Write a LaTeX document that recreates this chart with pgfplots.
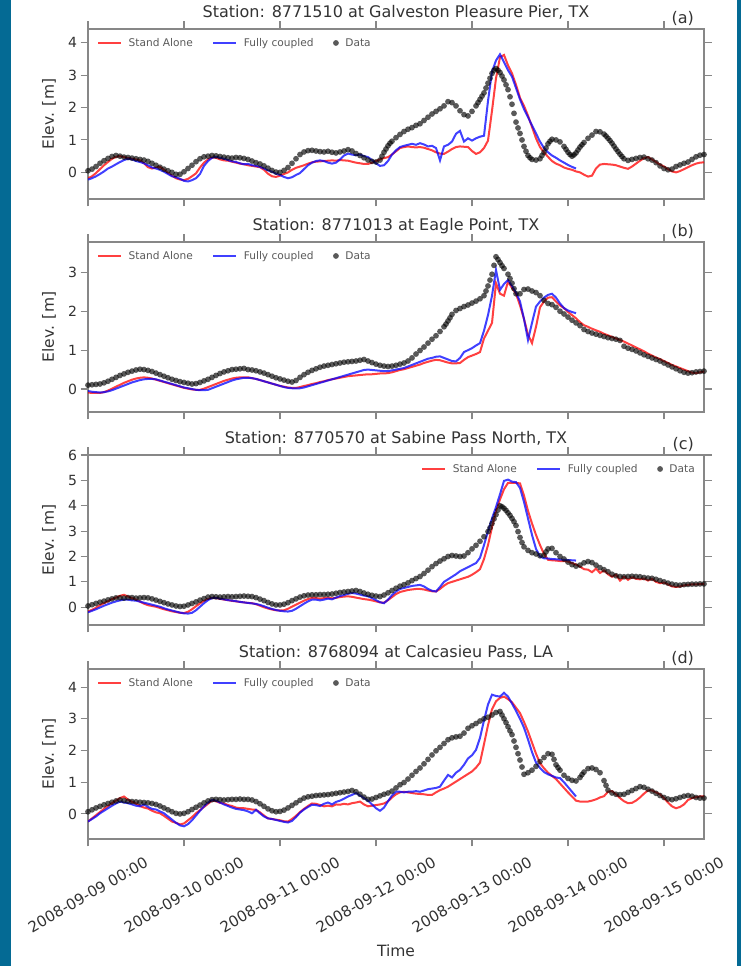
\documentclass[border=0pt]{standalone}
\usepackage{pgfplots}
\pgfplotsset{compat=1.18}
\usepackage{pgfplotstable}
\usepackage{fontspec}
\setmainfont{DejaVu Sans}
\definecolor{frameblue}{RGB}{4,106,148}
\definecolor{spine}{RGB}{135,135,135}
\definecolor{txt}{RGB}{51,51,51}
\definecolor{legtxt}{RGB}{90,90,90}
\definecolor{sared}{RGB}{255,0,0}
\definecolor{fcblue}{RGB}{0,0,255}

\pgfplotstableread{
h d r b
0 0.05 -0.18 -0.22
1 0.10 -0.12 -0.18
2 0.18 -0.02 -0.12
3 0.28 0.10 -0.05
4 0.36 0.22 0.03
5 0.43 0.32 0.12
6 0.49 0.42 0.18
7 0.52 0.48 0.25
8 0.50 0.50 0.32
9 0.47 0.47 0.38
10 0.46 0.44 0.42
11 0.44 0.42 0.40
12 0.42 0.40 0.35
13 0.40 0.37 0.32
14 0.38 0.28 0.28
15 0.34 0.16 0.22
16 0.28 0.12 0.15
17 0.22 0.15 0.12
18 0.16 0.17 0.08
19 0.10 0.08 0.02
20 0.05 -0.02 -0.05
21 0.00 -0.10 -0.12
22 -0.06 -0.18 -0.15
23 -0.06 -0.22 -0.20
24 0.02 -0.24 -0.26
25 0.12 -0.20 -0.28
26 0.22 -0.12 -0.24
27 0.33 -0.03 -0.18
28 0.42 0.15 -0.05
29 0.48 0.30 0.20
30 0.50 0.40 0.35
31 0.52 0.46 0.45
32 0.51 0.45 0.48
33 0.49 0.40 0.45
34 0.47 0.37 0.42
35 0.45 0.36 0.38
36 0.44 0.33 0.34
37 0.46 0.30 0.32
38 0.45 0.27 0.28
39 0.43 0.25 0.25
40 0.40 0.22 0.26
41 0.35 0.20 0.22
42 0.30 0.18 0.20
43 0.26 0.16 0.17
44 0.20 0.08 0.12
45 0.13 -0.04 0.06
46 0.06 -0.12 0.02
47 0.01 -0.14 -0.04
48 0.00 -0.10 -0.08
49 0.06 -0.05 -0.14
50 0.15 0.00 -0.18
51 0.28 0.08 -0.15
52 0.42 0.14 -0.08
53 0.55 0.18 -0.02
54 0.63 0.22 0.10
55 0.67 0.27 0.22
56 0.68 0.31 0.30
57 0.66 0.33 0.35
58 0.64 0.34 0.37
59 0.63 0.35 0.35
60 0.65 0.36 0.30
61 0.62 0.37 0.27
62 0.60 0.36 0.30
63 0.63 0.38 0.40
64 0.66 0.37 0.52
65 0.70 0.36 0.58
66 0.66 0.33 0.55
67 0.58 0.30 0.53
68 0.52 0.28 0.55
69 0.45 0.26 0.50
70 0.38 0.26 0.47
71 0.34 0.30 0.38
72 0.32 0.35 0.28
73 0.38 0.40 0.20
74 0.62 0.44 0.22
75 0.82 0.47 0.35
76 0.96 0.55 0.55
77 1.07 0.65 0.68
78 1.17 0.75 0.78
79 1.26 0.78 0.82
80 1.33 0.80 0.85
81 1.38 0.78 0.88
82 1.45 0.77 0.85
83 1.50 0.78 0.90
84 1.60 0.76 0.86
85 1.70 0.72 0.80
86 1.80 0.68 0.82
87 1.88 0.62 0.75
88 1.96 0.58 0.37
89 2.05 0.57 0.80
90 2.18 0.64 0.85
91 2.15 0.72 0.95
92 2.05 0.78 1.19
93 1.90 0.80 1.28
94 1.78 0.79 0.95
95 1.74 0.78 1.05
96 1.88 0.66 0.98
97 2.05 0.57 1.05
98 2.25 0.62 1.10
99 2.45 0.75 1.13
100 2.75 0.98 2.20
101 3.05 1.90 3.10
102 3.20 2.90 3.45
103 3.08 3.55 3.64
104 2.85 3.62 3.40
105 2.55 3.30 3.15
106 2.10 3.05 2.95
107 1.55 2.70 2.60
108 1.20 2.30 2.25
109 0.80 2.05 1.95
110 0.52 1.75 1.70
111 0.40 1.40 1.45
112 0.38 1.05 1.20
113 0.42 0.78 0.95
114 0.62 0.62 0.75
115 0.88 0.48 0.62
116 1.02 0.35 0.52
117 1.00 0.27 0.45
118 0.94 0.22 0.37
119 0.80 0.15 0.30
120 0.62 0.11 0.23
121 0.50 0.08 0.17
122 0.60 0.03 0.12
123 0.78 0.00 nan
124 0.92 -0.07 nan
125 1.05 -0.13 nan
126 1.15 -0.10 nan
127 1.26 0.12 nan
128 1.25 0.24 nan
129 1.18 0.26 nan
130 1.05 0.25 nan
131 0.90 0.24 nan
132 0.72 0.22 nan
133 0.56 0.18 nan
134 0.42 0.14 nan
135 0.37 0.11 nan
136 0.40 0.18 nan
137 0.43 0.27 nan
138 0.46 0.36 nan
139 0.47 0.44 nan
140 0.42 0.47 nan
141 0.38 0.40 nan
142 0.30 0.32 nan
143 0.20 0.24 nan
144 0.12 0.18 nan
145 0.08 0.10 nan
146 0.10 0.03 nan
147 0.18 0.00 nan
148 0.23 0.04 nan
149 0.28 0.10 nan
150 0.32 0.16 nan
151 0.40 0.22 nan
152 0.48 0.27 nan
153 0.53 0.30 nan
154 0.55 0.31 nan
}\tabA

\pgfplotstableread{
h d r b
0 0.10 -0.09 -0.05
1 0.11 -0.10 -0.07
2 0.12 -0.10 -0.08
3 0.13 -0.10 -0.09
4 0.16 -0.08 -0.08
5 0.20 -0.04 -0.06
6 0.25 0.01 -0.03
7 0.30 0.06 0.01
8 0.35 0.11 0.05
9 0.39 0.16 0.09
10 0.43 0.20 0.13
11 0.46 0.24 0.17
12 0.49 0.27 0.20
13 0.51 0.29 0.23
14 0.50 0.30 0.25
15 0.48 0.29 0.26
16 0.45 0.27 0.26
17 0.41 0.24 0.25
18 0.37 0.21 0.22
19 0.33 0.18 0.19
20 0.29 0.15 0.16
21 0.25 0.12 0.13
22 0.22 0.09 0.10
23 0.19 0.06 0.07
24 0.17 0.03 0.04
25 0.15 0.01 0.02
26 0.13 -0.01 0.00
27 0.14 -0.02 -0.02
28 0.17 -0.02 -0.03
29 0.21 0.01 -0.03
30 0.25 0.05 -0.02
31 0.30 0.09 0.02
32 0.35 0.13 0.06
33 0.40 0.17 0.10
34 0.44 0.21 0.14
35 0.47 0.24 0.18
36 0.50 0.27 0.22
37 0.51 0.29 0.25
38 0.52 0.30 0.27
39 0.53 0.30 0.29
40 0.50 0.30 0.29
41 0.49 0.28 0.28
42 0.47 0.26 0.26
43 0.44 0.23 0.23
44 0.41 0.20 0.20
45 0.37 0.17 0.17
46 0.33 0.14 0.14
47 0.29 0.11 0.11
48 0.26 0.08 0.08
49 0.23 0.06 0.05
50 0.20 0.04 0.03
51 0.18 0.03 0.02
52 0.22 0.03 0.02
53 0.30 0.05 0.02
54 0.37 0.08 0.04
55 0.43 0.10 0.07
56 0.48 0.13 0.10
57 0.52 0.15 0.13
58 0.56 0.18 0.16
59 0.59 0.20 0.19
60 0.61 0.23 0.22
61 0.63 0.25 0.25
62 0.65 0.27 0.28
63 0.67 0.29 0.31
64 0.69 0.31 0.34
65 0.70 0.33 0.37
66 0.71 0.34 0.40
67 0.72 0.35 0.43
68 0.74 0.36 0.46
69 0.76 0.37 0.49
70 0.72 0.38 0.50
71 0.68 0.38 0.49
72 0.64 0.39 0.48
73 0.61 0.40 0.47
74 0.59 0.40 0.46
75 0.58 0.41 0.46
76 0.59 0.43 0.48
77 0.61 0.46 0.50
78 0.64 0.49 0.52
79 0.67 0.51 0.54
80 0.72 0.54 0.58
81 0.80 0.57 0.62
82 0.90 0.60 0.66
83 0.99 0.63 0.70
84 1.08 0.67 0.74
85 1.18 0.70 0.78
86 1.28 0.73 0.80
87 1.37 0.75 0.83
88 1.48 0.74 0.84
89 1.60 0.71 0.80
90 1.75 0.68 0.76
91 1.92 0.66 0.72
92 2.02 0.66 0.71
93 2.07 0.67 0.80
94 2.12 0.75 0.95
95 2.16 0.82 1.00
96 2.21 0.86 1.05
97 2.26 0.90 1.12
98 2.32 0.95 1.18
99 2.40 1.30 1.50
100 2.65 1.50 1.90
101 2.95 1.70 2.40
102 3.40 2.72 3.06
103 3.25 2.45 2.55
104 3.10 2.40 2.70
105 2.95 2.76 2.80
106 2.72 2.60 2.65
107 2.45 2.45 2.48
108 2.45 2.15 2.25
109 2.56 1.80 1.80
110 2.57 1.40 1.26
111 2.52 1.18 1.70
112 2.48 1.60 2.12
113 2.40 2.10 2.25
114 2.28 2.25 2.35
115 2.20 2.35 2.42
116 2.17 2.36 2.45
117 2.10 2.25 2.35
118 2.00 2.15 2.20
119 1.93 2.08 2.08
120 1.85 1.98 2.02
121 1.77 1.90 1.98
122 1.70 1.82 1.95
123 1.63 1.72 nan
124 1.53 1.64 nan
125 1.48 1.60 nan
126 1.44 1.55 nan
127 1.41 1.51 nan
128 1.38 1.47 nan
129 1.35 1.42 nan
130 1.32 1.38 nan
131 1.30 1.34 nan
132 1.28 1.30 nan
133 1.25 1.26 nan
134 1.10 1.22 nan
135 1.05 1.17 nan
136 1.02 1.12 nan
137 0.98 1.07 nan
138 0.93 1.02 nan
139 0.88 0.97 nan
140 0.84 0.91 nan
141 0.80 0.86 nan
142 0.76 0.81 nan
143 0.72 0.77 nan
144 0.67 0.72 nan
145 0.62 0.67 nan
146 0.57 0.62 nan
147 0.52 0.58 nan
148 0.47 0.54 nan
149 0.43 0.50 nan
150 0.41 0.46 nan
151 0.42 0.42 nan
152 0.44 0.41 nan
153 0.45 0.43 nan
154 0.46 0.45 nan
}\tabB

\pgfplotstableread{
h d r b
0 0.05 -0.17 -0.20
1 0.10 -0.10 -0.14
2 0.15 -0.02 -0.08
3 0.20 0.08 -0.01
4 0.24 0.16 0.06
5 0.29 0.24 0.12
6 0.33 0.32 0.18
7 0.37 0.38 0.23
8 0.37 0.45 0.27
9 0.36 0.49 0.30
10 0.38 0.42 0.30
11 0.38 0.36 0.27
12 0.36 0.30 0.26
13 0.37 0.22 0.22
14 0.38 0.14 0.18
15 0.37 0.08 0.14
16 0.33 0.05 0.10
17 0.28 0.02 0.06
18 0.23 -0.03 0.02
19 0.18 -0.08 -0.04
20 0.13 -0.12 -0.09
21 0.09 -0.16 -0.13
22 0.05 -0.19 -0.17
23 0.03 -0.22 -0.21
24 0.04 -0.23 -0.24
25 0.09 -0.18 -0.25
26 0.15 -0.08 -0.22
27 0.21 0.04 -0.12
28 0.28 0.15 0.02
29 0.34 0.25 0.16
30 0.40 0.32 0.28
31 0.42 0.37 0.36
32 0.41 0.36 0.37
33 0.40 0.33 0.34
34 0.41 0.30 0.31
35 0.42 0.28 0.28
36 0.41 0.25 0.26
37 0.42 0.23 0.24
38 0.43 0.21 0.21
39 0.44 0.19 0.19
40 0.43 0.17 0.17
41 0.42 0.16 0.15
42 0.38 0.12 0.13
43 0.32 0.06 0.09
44 0.26 0.00 0.04
45 0.19 -0.05 -0.02
46 0.13 -0.09 -0.07
47 0.09 -0.12 -0.11
48 0.09 -0.13 -0.14
49 0.12 -0.12 -0.16
50 0.18 -0.06 -0.17
51 0.26 0.02 -0.14
52 0.33 0.10 -0.06
53 0.40 0.18 0.04
54 0.45 0.26 0.14
55 0.48 0.32 0.23
56 0.49 0.37 0.30
57 0.49 0.36 0.30
58 0.50 0.34 0.27
59 0.50 0.36 0.30
60 0.51 0.38 0.34
61 0.52 0.35 0.31
62 0.55 0.37 0.38
63 0.58 0.40 0.44
64 0.60 0.42 0.48
65 0.62 0.43 0.53
66 0.64 0.41 0.56
67 0.66 0.38 0.54
68 0.62 0.35 0.50
69 0.56 0.32 0.46
70 0.51 0.30 0.43
71 0.47 0.27 0.36
72 0.44 0.23 0.28
73 0.42 0.19 0.20
74 0.48 0.18 0.16
75 0.57 0.28 0.30
76 0.66 0.40 0.48
77 0.75 0.52 0.62
78 0.83 0.60 0.72
79 0.89 0.64 0.76
80 0.96 0.68 0.80
81 1.05 0.70 0.84
82 1.13 0.72 0.86
83 1.21 0.72 0.88
84 1.33 0.70 0.82
85 1.46 0.66 0.72
86 1.60 0.63 0.65
87 1.72 0.62 0.62
88 1.82 0.72 0.80
89 1.91 0.85 1.00
90 2.00 0.95 1.10
91 2.04 1.00 1.20
92 2.02 1.05 1.30
93 2.00 1.10 1.42
94 2.02 1.15 1.50
95 2.15 1.20 1.58
96 2.30 1.28 1.66
97 2.44 1.38 1.74
98 2.60 1.50 1.95
99 2.78 1.90 2.45
100 2.98 2.45 3.00
101 3.30 3.15 3.50
102 3.65 3.80 3.95
103 4.00 4.25 4.45
104 3.90 4.65 4.98
105 3.72 4.90 5.03
106 3.50 4.90 4.95
107 3.22 4.90 4.93
108 2.75 4.88 4.70
109 2.38 4.40 4.15
110 2.24 3.80 3.50
111 2.15 3.30 2.85
112 2.10 2.85 2.30
113 2.03 2.45 2.00
114 2.05 2.10 1.93
115 2.30 1.87 1.92
116 2.32 1.85 1.90
117 2.15 1.84 1.89
118 2.00 1.82 1.88
119 1.90 1.82 1.87
120 1.78 1.80 1.86
121 1.68 1.74 1.85
122 1.62 1.68 1.84
123 1.66 1.60 nan
124 1.75 1.50 nan
125 1.80 1.48 nan
126 1.76 1.38 nan
127 1.66 1.52 nan
128 1.56 1.35 nan
129 1.48 1.45 nan
130 1.40 1.30 nan
131 1.30 1.20 nan
132 1.24 1.28 nan
133 1.21 1.05 nan
134 1.20 1.20 nan
135 1.21 1.08 nan
136 1.22 1.18 nan
137 1.21 1.12 nan
138 1.20 1.10 nan
139 1.17 1.13 nan
140 1.15 1.05 nan
141 1.14 1.12 nan
142 1.10 1.00 nan
143 1.05 0.95 nan
144 1.00 0.97 nan
145 0.95 0.90 nan
146 0.91 0.82 nan
147 0.88 0.80 nan
148 0.87 0.82 nan
149 0.89 0.86 nan
150 0.90 0.88 nan
151 0.91 0.90 nan
152 0.91 0.90 nan
153 0.92 0.91 nan
154 0.92 0.92 nan
}\tabC

\pgfplotstableread{
h d r b
0 0.07 -0.24 -0.24
1 0.13 -0.14 -0.16
2 0.19 -0.04 -0.08
3 0.24 0.06 0.02
4 0.29 0.16 0.10
5 0.33 0.25 0.18
6 0.37 0.34 0.26
7 0.41 0.42 0.33
8 0.44 0.50 0.39
9 0.42 0.55 0.36
10 0.40 0.45 0.34
11 0.39 0.38 0.30
12 0.38 0.33 0.26
13 0.37 0.25 0.24
14 0.36 0.20 0.30
15 0.35 0.17 0.22
16 0.33 0.10 0.16
17 0.30 0.05 0.14
18 0.25 0.02 0.08
19 0.19 -0.06 0.02
20 0.13 -0.15 -0.08
21 0.07 -0.24 -0.18
22 0.02 -0.28 -0.28
23 0.00 -0.33 -0.36
24 0.02 -0.30 -0.39
25 0.07 -0.20 -0.32
26 0.14 -0.10 -0.20
27 0.21 0.02 -0.05
28 0.28 0.12 0.10
29 0.35 0.22 0.24
30 0.41 0.32 0.36
31 0.45 0.42 0.44
32 0.46 0.40 0.42
33 0.45 0.35 0.36
34 0.44 0.33 0.30
35 0.45 0.28 0.25
36 0.46 0.25 0.20
37 0.46 0.20 0.16
38 0.47 0.18 0.14
39 0.46 0.18 0.12
40 0.46 0.16 0.08
41 0.44 0.14 0.02
42 0.39 0.13 0.13
43 0.32 0.05 0.02
44 0.24 -0.05 -0.08
45 0.16 -0.14 -0.14
46 0.10 -0.16 -0.16
47 0.07 -0.18 -0.19
48 0.08 -0.20 -0.22
49 0.12 -0.23 -0.25
50 0.19 -0.24 -0.27
51 0.27 -0.16 -0.22
52 0.35 -0.06 -0.10
53 0.43 0.06 0.04
54 0.50 0.16 0.14
55 0.54 0.25 0.22
56 0.56 0.33 0.29
57 0.58 0.32 0.28
58 0.59 0.28 0.25
59 0.60 0.24 0.32
60 0.61 0.26 0.36
61 0.63 0.24 0.30
62 0.65 0.30 0.38
63 0.67 0.29 0.42
64 0.69 0.32 0.48
65 0.71 0.30 0.55
66 0.74 0.34 0.60
67 0.70 0.36 0.66
68 0.62 0.39 0.58
69 0.53 0.30 0.50
70 0.46 0.24 0.42
71 0.47 0.26 0.30
72 0.52 0.28 0.18
73 0.57 0.30 0.10
74 0.62 0.33 0.20
75 0.66 0.40 0.40
76 0.72 0.52 0.58
77 0.82 0.62 0.70
78 0.92 0.68 0.70
79 0.99 0.70 0.68
80 1.10 0.68 0.70
81 1.22 0.66 0.70
82 1.34 0.64 0.72
83 1.45 0.63 0.70
84 1.58 0.62 0.74
85 1.72 0.60 0.78
86 1.86 0.60 0.80
87 1.99 0.68 0.82
88 2.10 0.75 0.86
89 2.22 0.80 1.05
90 2.34 0.86 1.23
91 2.40 0.94 1.15
92 2.43 1.02 1.30
93 2.45 1.10 1.39
94 2.55 1.18 1.55
95 2.70 1.26 1.75
96 2.78 1.34 1.85
97 2.85 1.46 2.02
98 2.93 1.62 2.40
99 3.00 2.20 2.95
100 3.05 2.80 3.45
101 3.12 3.30 3.76
102 3.20 3.55 3.72
103 3.23 3.66 3.70
104 3.00 3.70 3.82
105 2.75 3.62 3.70
106 2.50 3.52 3.48
107 2.10 3.35 3.25
108 1.70 3.18 3.00
109 1.25 2.90 2.72
110 1.30 2.60 2.35
111 1.38 2.25 1.95
112 1.50 1.90 1.62
113 1.65 1.60 1.45
114 1.78 1.44 1.32
115 1.90 1.30 1.25
116 1.88 1.20 1.20
117 1.55 1.10 1.15
118 1.38 0.96 1.13
119 1.22 0.82 1.00
120 1.12 0.68 0.85
121 1.06 0.55 0.70
122 1.04 0.42 0.55
123 1.15 0.39 nan
124 1.32 0.39 nan
125 1.43 0.39 nan
126 1.45 0.42 nan
127 1.40 0.46 nan
128 1.30 0.52 nan
129 1.05 0.56 nan
130 0.75 0.70 nan
131 0.66 0.72 nan
132 0.62 0.62 nan
133 0.61 0.50 nan
134 0.62 0.40 nan
135 0.68 0.34 nan
136 0.74 0.35 nan
137 0.80 0.42 nan
138 0.86 0.52 nan
139 0.84 0.64 nan
140 0.78 0.74 nan
141 0.72 0.74 nan
142 0.65 0.68 nan
143 0.58 0.62 nan
144 0.52 0.50 nan
145 0.47 0.36 nan
146 0.45 0.24 nan
147 0.48 0.18 nan
148 0.52 0.22 nan
149 0.56 0.30 nan
150 0.58 0.44 nan
151 0.56 0.50 nan
152 0.52 0.53 nan
153 0.50 0.55 nan
154 0.50 0.55 nan
}\tabD

\tikzset{paneltag/.style={anchor=base east, yshift=5.5pt, inner sep=0pt, font=\fontsize{16}{19}\selectfont, text=txt}}

\pgfplotsset{
  panel/.style={
    scale only axis, width=616pt, height=170pt, anchor=south west,
    xmin=0, xmax=154, xtick={0,24,48,72,96,120,144},
    axis line style={draw=spine, line width=1.2pt},
    tick align=outside, major tick length=7.5pt,
    tick style={draw=spine, line width=1.1pt},
    xticklabels={},
    /pgf/number format/assume math mode=true,
    yticklabel style={font=\fontsize{14}{16}\selectfont, text=txt},
    ylabel={Elev. [m]},
    ylabel style={at={(axis description cs:-0.0633,0.5)}, anchor=center, font=\fontsize{15.5}{18}\selectfont, text=txt},
    title style={at={(axis description cs:0.5,1)}, anchor=base, yshift=5.5pt, font=\fontsize{16}{19}\selectfont, text=txt},
    legend columns=3,
    legend style={draw=none, fill=none, inner sep=0pt,
      font=\fontsize{10.6}{12}\selectfont\color{legtxt},
      /tikz/every odd column/.append style={column sep=4.5pt},
      /tikz/every even column/.append style={column sep=17.5pt}},
  },
  sa/.style={sared, opacity=0.75, line width=2pt, no marks,
    legend image code/.code={\draw[##1] (0pt,0pt) -- (23pt,0pt);}},
  fc/.style={fcblue, opacity=0.75, line width=2pt, no marks,
    legend image code/.code={\draw[##1] (0pt,0pt) -- (23pt,0pt);}},
  obs/.style={only marks, mark=*, mark size=2.9pt, mark options={fill=black, fill opacity=0.65, draw opacity=0},
    legend image code/.code={\draw[mark repeat=2,mark phase=2,##1] plot coordinates {(0pt,0pt) (11.5pt,0pt) (23pt,0pt)};}},
}

\begin{document}
\begin{tikzpicture}
\fill[white] (0pt,0pt) rectangle (741pt,966pt);
\fill[frameblue] (0pt,0pt) rectangle (11pt,966pt);
\fill[frameblue] (737pt,0pt) rectangle (741pt,966pt);

% (a)
\begin{axis}[panel, at={(88pt,767pt)},
  ymin=-0.82, ymax=4.42, ytick={0,1,2,3,4},
  title={Station: 8771510 at Galveston Pleasure Pier, TX},
  legend style={at={(axis description cs:0,1)}, anchor=north west, xshift=9pt, yshift=-7pt},
  extra description/.code={\node[paneltag] at (0.984,1) {(a)};}]
\addplot[sa] table[x=h,y=r] {\tabA}; \addlegendentry{Stand Alone}
\addplot[fc] table[x=h,y=b] {\tabA}; \addlegendentry{Fully coupled}
\addplot[obs] table[x=h,y=d] {\tabA}; \addlegendentry{Data}
\addplot[obs, forget plot] coordinates {(73.5,0.50) (74.5,0.72) (75.5,0.90) (97.5,2.15) (98.5,2.35) (99.5,2.60) (100.5,2.90) (101.5,3.15) (102.5,3.15) (103.5,2.97) (104.5,2.70) (105.5,2.33) (106.5,1.82) (107.5,1.37) (108.5,1.00) (109.5,0.65) (110.5,0.45) (113.5,0.52) (114.5,0.75) (115.5,0.96) (119.5,0.71) (120.5,0.55) (121.5,0.54) (122.5,0.69) (123.5,0.85) (129.5,1.12) (130.5,0.98) (131.5,0.81) (132.5,0.64) (133.5,0.49)};
\end{axis}

% (b)
\begin{axis}[panel, at={(88pt,554pt)},
  ymin=-0.59, ymax=3.78, ytick={0,1,2,3},
  title={Station: 8771013 at Eagle Point, TX},
  legend style={at={(axis description cs:0,1)}, anchor=north west, xshift=9pt, yshift=-7pt},
  extra description/.code={\node[paneltag] at (0.984,1) {(b)};}]
\addplot[sa] table[x=h,y=r] {\tabB}; \addlegendentry{Stand Alone}
\addplot[fc] table[x=h,y=b] {\tabB}; \addlegendentry{Fully coupled}
\addplot[obs] table[x=h,y=d] {\tabB}; \addlegendentry{Data}
\addplot[obs, forget plot] coordinates {(89.5,1.67) (90.5,1.83) (99.5,2.52) (100.5,2.80) (101.5,3.18) (102.5,3.33) (103.5,3.17) (105.5,2.84) (106.5,2.58)};
\end{axis}

% (c)
\begin{axis}[panel, at={(88pt,341pt)},
  ymin=-0.7, ymax=6.0, ytick={0,1,2,3,4,5,6},
  title={Station: 8770570 at Sabine Pass North, TX},
  legend style={at={(axis description cs:1,1)}, anchor=north east, xshift=-7pt, yshift=-7pt},
  extra description/.code={\node[paneltag] at (0.984,1) {(c)};}]
\addplot[sa] table[x=h,y=r] {\tabC}; \addlegendentry{Stand Alone}
\addplot[fc] table[x=h,y=b] {\tabC}; \addlegendentry{Fully coupled}
\addplot[obs] table[x=h,y=d] {\tabC}; \addlegendentry{Data}
\addplot[obs, forget plot] coordinates {(100.5,3.13) (101.5,3.48) (102.5,3.83) (103.5,3.96) (104.5,3.82) (105.5,3.62) (106.5,3.37) (107.5,2.98) (108.5,2.55) (114.5,2.18)};
\end{axis}

% (d)
\begin{axis}[panel, at={(88pt,127pt)},
  ymin=-0.79, ymax=4.57, ytick={0,1,2,3,4},
  title={Station: 8768094 at Calcasieu Pass, LA},
  xticklabels={2008-09-09 00:00,2008-09-10 00:00,2008-09-11 00:00,2008-09-12 00:00,2008-09-13 00:00,2008-09-14 00:00,2008-09-15 00:00},
  xticklabel style={anchor=center, yshift=-48pt, rotate=30, font=\fontsize{15}{18}\selectfont, text=txt},
  xlabel={Time},
  xlabel style={at={(axis description cs:0.5,-0.659)}, anchor=center, font=\fontsize{15.5}{18}\selectfont, text=txt},
  legend style={at={(axis description cs:0,1)}, anchor=north west, xshift=9pt, yshift=-7pt},
  extra description/.code={\node[paneltag] at (0.984,1) {(d)};}]
\addplot[sa] table[x=h,y=r] {\tabD}; \addlegendentry{Stand Alone}
\addplot[fc] table[x=h,y=b] {\tabD}; \addlegendentry{Fully coupled}
\addplot[obs] table[x=h,y=d] {\tabD}; \addlegendentry{Data}
\addplot[obs, forget plot] coordinates {(103.5,3.12) (104.5,2.88) (105.5,2.62) (106.5,2.30) (107.5,1.90) (108.5,1.48) (116.5,1.72) (117.5,1.46) (123.5,1.24) (129.5,0.90)};
\end{axis}
\end{tikzpicture}
\end{document}
